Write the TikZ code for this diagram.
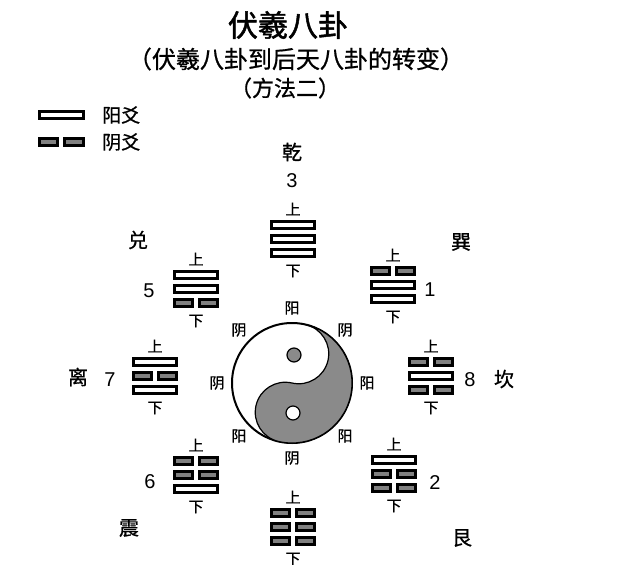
\documentclass[tikz,border=0pt]{standalone}
\usepackage{fontspec}
\setmainfont{Liberation Sans}
\newfontfamily\cjk[FakeBold=0.8]{Noto Sans CJK SC}
\newfontfamily\cjkheavy[FakeBold=1.6]{Noto Sans CJK SC}
\definecolor{yingray}{RGB}{128,128,128}
\definecolor{yygray}{RGB}{138,138,138}
\tikzset{
  bar/.style={draw=black, line width=3pt},
  yangbar/.style={bar, fill=white},
  yinbar/.style={bar, fill=yingray},
  guatext/.style={inner sep=0pt, font=\cjk\fontsize{15}{15}\selectfont},
  yytext/.style={inner sep=0pt, font=\cjk\fontsize{15}{15}\selectfont},
  nametext/.style={inner sep=0pt, font=\cjk\fontsize{20}{20}\selectfont},
  numtext/.style={inner sep=0pt, font=\fontsize{20}{20}\selectfont},
  legendtext/.style={inner sep=0pt, anchor=west, font=\cjk\fontsize{19}{19}\selectfont},
}
\begin{document}
\begin{tikzpicture}[x=1pt,y=-1pt]
  \useasboundingbox (0,0) rectangle (640,565);
  % title
  \node[inner sep=0pt, font=\cjkheavy\fontsize{30}{30}\selectfont] (title) at (288,25) {伏羲八卦};
  \node[inner sep=0pt, font=\cjk\fontsize{24}{24}\selectfont] (subtitle) at (296,59) {（伏羲八卦到后天八卦的转变）};
  \node[inner sep=0pt, font=\cjk\fontsize{22}{22}\selectfont] (method) at (285,88) {（方法二）};
  % legend
  \draw[yangbar] (39.5,111) rectangle (83.5,118);
  \draw[yinbar] (39.5,138) rectangle (57.5,145);
  \draw[yinbar] (64.5,138) rectangle (83.5,145);
  \node[legendtext] (yang-key) at (102,115) {阳爻};
  \node[legendtext] (yin-key) at (102,142) {阴爻};
  % trigrams: name/x/y/top/middle/bottom (1 = yang, 0 = yin)
  \foreach \gname/\gx/\gy/\ga/\gb/\gc in {
      qian/293/239/1/1/1, xun/393/285/0/1/1, kan/431/376/0/1/0, gen/394/474/1/0/0,
      kun/293/527/0/0/0, zhen/196/475/0/0/1, li/155/376/1/0/1, dui/196/289/1/1/0}{
    \begin{scope}[shift={(\gx,\gy)}]
      \coordinate (\gname) at (0,0);
      \node[guatext] (\gname-up) at (0,-30) {上};
      \node[guatext] (\gname-down) at (0,32) {下};
      \foreach \yy/\yv in {-14/\ga, 0/\gb, 14/\gc}{
        \ifnum\yv=1
          \draw[yangbar] (-21.5,\yy-3.5) rectangle (21.5,\yy+3.5);
        \else
          \draw[yinbar] (-21.5,\yy-3.5) rectangle (-3.5,\yy+3.5);
          \draw[yinbar] (3.5,\yy-3.5) rectangle (21.5,\yy+3.5);
        \fi
      }
    \end{scope}
  }
  % numbers
  \foreach \nname/\nx/\ny/\nnum in {
      qian/292/181/3, xun/430/290/1, kan/470/380/8, gen/435/483/2,
      zhen/150/482/6, li/110/380/7, dui/149/291/5}
    \node[numtext] (\nname-num) at (\nx,\ny) {\nnum};
  % names
  \foreach \nname/\nx/\ny/\nword in {
      qian/292/152/乾, xun/461/242/巽, kan/504/379/坎, gen/462/538/艮,
      zhen/129/528/震, li/78/377/离, dui/138/240/兑}
    \node[nametext] (\nname-name) at (\nx,\ny) {\nword};
  % taiji
  \coordinate (taiji) at (292,383);
  \draw[line width=2pt, fill=white] (taiji) circle[radius=60];
  \begin{scope}[rotate around={-13:(taiji)}]
    \draw[line width=1.2pt, fill=yygray] (292,323)
      arc[start angle=-90, end angle=90, radius=60]
      arc[start angle=90, end angle=270, radius=30]
      arc[start angle=90, end angle=-90, radius=30] -- cycle;
  \end{scope}
  \draw[line width=1.2pt, fill=yygray] (294,355) circle[radius=7];
  \draw[line width=1.2pt, fill=white] (293,413) circle[radius=7];
  \begin{scope}[shift={(taiji)}]
    \foreach \ang/\yyword [count=\i] in {-90/阳, -45/阴, 0/阳, 45/阳, 90/阴, 135/阳, 180/阴, 225/阴}
      \node[yytext] (yy\i) at (\ang:75) {\yyword};
  \end{scope}
\end{tikzpicture}
\end{document}
